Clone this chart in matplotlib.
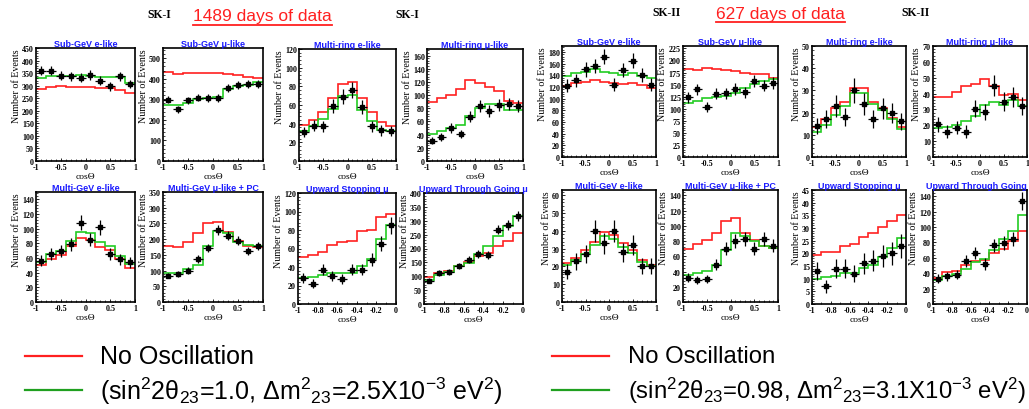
import numpy as np
import matplotlib.pyplot as plt
from matplotlib.lines import Line2D
from matplotlib.ticker import MultipleLocator, AutoMinorLocator

plt.rcParams['font.family'] = 'Liberation Serif'
plt.rcParams['font.weight'] = 'bold'
plt.rcParams['mathtext.fontset'] = 'custom'
plt.rcParams['mathtext.rm'] = 'Liberation Sans:weight=normal'
plt.rcParams['mathtext.it'] = 'Liberation Sans:italic:weight=normal'

W, H = 1029, 410

# zenith-angle bin edges
full_edges = np.linspace(-1, 1, 11)
up_edges = np.linspace(-1, 0, 11)

# ---- SK-I (1489 days) ----
sk1_sube_data = [360, 360, 340, 338, 331, 343, 320, 298, 338, 307]
sk1_sube_null = [287, 294, 298, 294, 296, 294, 291, 290, 284, 271]
sk1_sube_osc = [331, 340, 340, 340, 343, 340, 336, 336, 334, 311]

sk1_submu_data = [298, 251, 295, 308, 307, 307, 356, 372, 377, 375]
sk1_submu_null = [435, 425, 428, 430, 430, 428, 425, 420, 410, 405]
sk1_submu_osc = [274, 274, 284, 303, 307, 310, 352, 366, 372, 385]

sk1_mre_data = [31, 38, 37, 59, 69, 76, 58, 37, 33, 32]
sk1_mre_null = [39, 44, 53, 68, 83, 85, 67, 52, 42, 37]
sk1_mre_osc = [32, 37, 45, 56, 70, 71, 55, 43, 33, 32]

sk1_mrmu_data = [31, 37, 50, 41, 67, 84, 76, 85, 87, 84]
sk1_mrmu_null = [90, 95, 100, 110, 123, 119, 112, 106, 91, 88]
sk1_mrmu_osc = [41, 45, 50, 54, 69, 80, 87, 87, 77, 77]

sk1_mge_data = [56, 65, 70, 79, 108, 85, 102, 66, 58, 54]
sk1_mge_null = [50, 58, 64, 77, 87, 85, 75, 71, 59, 47]
sk1_mge_osc = [54, 65, 70, 83, 96, 94, 82, 77, 63, 52]

sk1_mgmu_data = [84, 90, 100, 137, 172, 229, 211, 195, 163, 179]
sk1_mgmu_null = [179, 174, 190, 219, 250, 253, 224, 195, 177, 174]
sk1_mgmu_osc = [93, 93, 105, 118, 177, 227, 221, 192, 181, 179]

sk1_upstop_data = [28, 22, 37, 30, 27, 37, 37, 48, 65, 85]
sk1_upstop_null = [50.5, 53, 56, 64, 67, 68.5, 79, 80, 94, 97]
sk1_upstop_osc = [28, 29, 31, 33.5, 33.5, 33.5, 41, 49, 70, 85]

sk1_upthru_data = [84, 112, 117, 136, 159, 180, 177, 267, 285, 316]
sk1_upthru_null = [96, 112, 120, 138, 153, 174, 184, 208, 228, 256]
sk1_upthru_osc = [86, 105, 117, 136, 148, 180, 208, 246, 282, 318]

# ---- SK-II (627 days) ----
sk2_sube_data = [122, 131, 150, 156, 172, 124, 149, 165, 140, 124]
sk2_sube_null = [122, 126, 128, 131, 129, 126, 125, 126, 124, 118]
sk2_sube_osc = [139, 144, 146, 150, 146, 143, 140, 143, 139, 135]

sk2_submu_data = [124, 140, 103, 131, 132, 141, 134, 158, 148, 153]
sk2_submu_null = [182, 181, 184, 182, 180, 178, 175, 173, 172, 164]
sk2_submu_osc = [112, 117, 122, 124, 127, 132, 142, 151, 158, 162]

sk2_mre_data = [14, 17, 23, 18, 30, 24, 17, 22, 20, 16]
sk2_mre_null = [13.4, 17, 22, 25, 31, 31, 25, 22, 17.6, 13.4]
sk2_mre_osc = [11.3, 14.3, 19, 23, 29, 29, 24, 21, 17, 12.7]

sk2_mrmu_data = [20.5, 16, 18.5, 16, 30.5, 28.4, 45, 35, 38, 32]
sk2_mrmu_null = [38, 38, 41, 44.5, 46, 49, 44.5, 39, 40, 36]
sk2_mrmu_osc = [18.4, 19, 20, 22.5, 26, 33, 35, 33, 36, 32]

sk2_mge_data = [17, 23, 27, 40, 33, 40, 28, 32, 20, 20]
sk2_mge_null = [22, 25, 29, 34, 39.4, 37.5, 33, 29, 23.5, 21]
sk2_mge_osc = [20.6, 23.6, 27, 32, 37, 35.6, 31, 27.4, 22.5, 20]

sk2_mgmu_data = [32, 29, 30, 49, 70, 80, 83, 70, 83, 74]
sk2_mgmu_null = [69, 76, 81, 91, 106, 110, 91, 81, 73.5, 71]
sk2_mgmu_osc = [35, 38.5, 40.7, 49, 68, 91, 87, 80, 74, 71]

sk2_upstop_data = [13, 7, 14, 14, 12, 16, 17, 19, 20, 23]
sk2_upstop_null = [19.4, 20.7, 20.7, 23, 23.8, 26.4, 28, 30.4, 32.6, 35]
sk2_upstop_osc = [9.9, 10.8, 11, 12.3, 12.3, 14.1, 15.4, 18.5, 22, 26]

sk2_upthru_data = [33, 36, 38, 56, 66, 52, 76, 79, 84, 134]
sk2_upthru_null = [34, 41.5, 42.4, 50, 55.6, 57, 65.6, 72, 82, 95]
sk2_upthru_osc = [30.6, 37, 39, 46, 54, 59, 70, 84, 95, 116]

mu = '\u03bc'
panels = [
    # (left, right, top, bottom) px, title, edges, data, null, osc, ymax, ystep, xstep
    ((36, 135, 49, 162), 'Sub-GeV e-like', full_edges, sk1_sube_data, sk1_sube_null, sk1_sube_osc, 450, 50, 0.5),
    ((163, 263, 49, 162), f'Sub-GeV {mu}-like', full_edges, sk1_submu_data, sk1_submu_null, sk1_submu_osc, 550, 100, 0.5),
    ((299, 396, 50, 162), 'Multi-ring e-like', full_edges, sk1_mre_data, sk1_mre_null, sk1_mre_osc, 120, 20, 0.5),
    ((427, 523, 50, 162), f'Multi-ring {mu}-like', full_edges, sk1_mrmu_data, sk1_mrmu_null, sk1_mrmu_osc, 170, 20, 0.5),
    ((36, 135, 193, 303), 'Multi-GeV e-like', full_edges, sk1_mge_data, sk1_mge_null, sk1_mge_osc, 150, 20, 0.5),
    ((163, 263, 193, 303), f'Multi-GeV {mu}-like + PC', full_edges, sk1_mgmu_data, sk1_mgmu_null, sk1_mgmu_osc, 350, 50, 0.5),
    ((298, 396, 194, 305), f'Upward Stopping {mu}', up_edges, sk1_upstop_data, sk1_upstop_null, sk1_upstop_osc, 120, 20, 0.2),
    ((424, 523, 194, 305), f'Upward Through Going {mu}', up_edges, sk1_upthru_data, sk1_upthru_null, sk1_upthru_osc, 400, 50, 0.2),
    ((562, 656, 47, 158), 'Sub-GeV e-like', full_edges, sk2_sube_data, sk2_sube_null, sk2_sube_osc, 190, 20, 0.5),
    ((683, 778, 47, 158), f'Sub-GeV {mu}-like', full_edges, sk2_submu_data, sk2_submu_null, sk2_submu_osc, 230, 25, 0.5),
    ((812, 906, 47, 158), 'Multi-ring e-like', full_edges, sk2_mre_data, sk2_mre_null, sk2_mre_osc, 50, 10, 0.5),
    ((933, 1027, 47, 158), f'Multi-ring {mu}-like', full_edges, sk2_mrmu_data, sk2_mrmu_null, sk2_mrmu_osc, 70, 10, 0.5),
    ((562, 656, 191, 303), 'Multi-GeV e-like', full_edges, sk2_mge_data, sk2_mge_null, sk2_mge_osc, 63, 10, 0.5),
    ((683, 778, 191, 303), f'Multi-GeV {mu}-like + PC', full_edges, sk2_mgmu_data, sk2_mgmu_null, sk2_mgmu_osc, 147, 20, 0.5),
    ((812, 906, 191, 305), f'Upward Stopping {mu}', up_edges, sk2_upstop_data, sk2_upstop_null, sk2_upstop_osc, 45, 5, 0.2),
    ((933, 1027, 191, 305), f'Upward Through Going {mu}', up_edges, sk2_upthru_data, sk2_upthru_null, sk2_upthru_osc, 148, 20, 0.2),
]

red = '#ff2020'
green = '#22cc22'
blue = '#1a1aff'


def tick_fmt(v, pos):
    v = round(v, 6)
    return '0' if v == 0 else f'{v:g}'


fig = plt.figure(figsize=(W / 100, H / 100), dpi=100)

for (l, r, t, b), title, edges, data, null, osc, ymax, ystep, xstep in panels:
    ax = fig.add_axes([l / W, 1 - b / H, (r - l) / W, (b - t) / H])
    ax.stairs(null, edges, baseline=None, color=red, lw=1.2)
    ax.stairs(osc, edges, baseline=None, color=green, lw=1.2)
    centers = 0.5 * (edges[:-1] + edges[1:])
    half = 0.5 * (edges[1] - edges[0])
    data = np.asarray(data, dtype=float)
    ax.errorbar(centers, data, xerr=half, yerr=np.sqrt(data), fmt='s', ms=2.2,
                color='black', elinewidth=0.9, capsize=0, zorder=5)
    ax.set_xlim(edges[0], edges[-1])
    ax.set_ylim(0, ymax)
    ax.xaxis.set_major_locator(MultipleLocator(xstep))
    ax.yaxis.set_major_locator(MultipleLocator(ystep))
    ax.xaxis.set_minor_locator(AutoMinorLocator(5 if xstep == 0.5 else 2))
    ax.yaxis.set_minor_locator(AutoMinorLocator(5))
    ax.xaxis.set_major_formatter(tick_fmt)
    ax.tick_params(which='major', direction='in', length=2.5, width=0.6, labelsize=5.8, pad=1.5)
    ax.tick_params(which='minor', direction='in', length=1.3, width=0.5)
    for s in ax.spines.values():
        s.set_linewidth(1.2)
    ax.set_title(title, fontsize=6.5, color=blue, family='Liberation Sans',
                 fontweight='bold', pad=1.5)
    ax.set_ylabel('Number of Events', fontsize=7.2, loc='top', labelpad=1)
    ax.set_xlabel('cos\u0398', fontsize=6.8, labelpad=1)

# run headers
for x, y, s in [(147, 15, 'SK-I'), (395, 15, 'SK-I'), (652, 13, 'SK-II'), (901, 13, 'SK-II')]:
    fig.text(x / W, 1 - y / H, s, fontsize=8.5, fontweight='bold', va='center')

days = [fig.text(193 / W, 1 - 17 / H, '1489 days of data', fontsize=12.5, color=red,
                 family='Liberation Sans', fontweight='normal', va='center'),
        fig.text(716 / W, 1 - 14 / H, '627 days of data', fontsize=12.5, color=red,
                 family='Liberation Sans', fontweight='normal', va='center')]
renderer = fig.canvas.get_renderer()
for txt in days:
    bb = txt.get_window_extent(renderer).transformed(fig.transFigure.inverted())
    fig.add_artist(Line2D([bb.x0, bb.x1], [bb.y0 - 0.004, bb.y0 - 0.004], color=red, lw=1.3))

# legends under each run
legend_rows = [
    (25, 100, 18, 'No Oscillation', '(sin$^2$2\u03b8$_{23}$=1.0, \u0394m$^2$$_{23}$=2.5X10$^{-3}$ eV$^2$)'),
    (552, 628, 17.2, 'No Oscillation', '(sin$^2$2\u03b8$_{23}$=0.98, \u0394m$^2$$_{23}$=3.1X10$^{-3}$ eV$^2$)'),
]
for x0, xt, size, s1, s2 in legend_rows:
    for y, c, s in [(357, red, s1), (391, '#20a020', s2)]:
        fig.add_artist(Line2D([x0 / W, (x0 + 57) / W], [1 - y / H, 1 - y / H], color=c, lw=1.6))
        fig.text(xt / W, 1 - y / H, s, fontsize=size, family='Liberation Sans',
                 fontweight='normal', va='center')

fig.savefig('out.png', dpi=100)
